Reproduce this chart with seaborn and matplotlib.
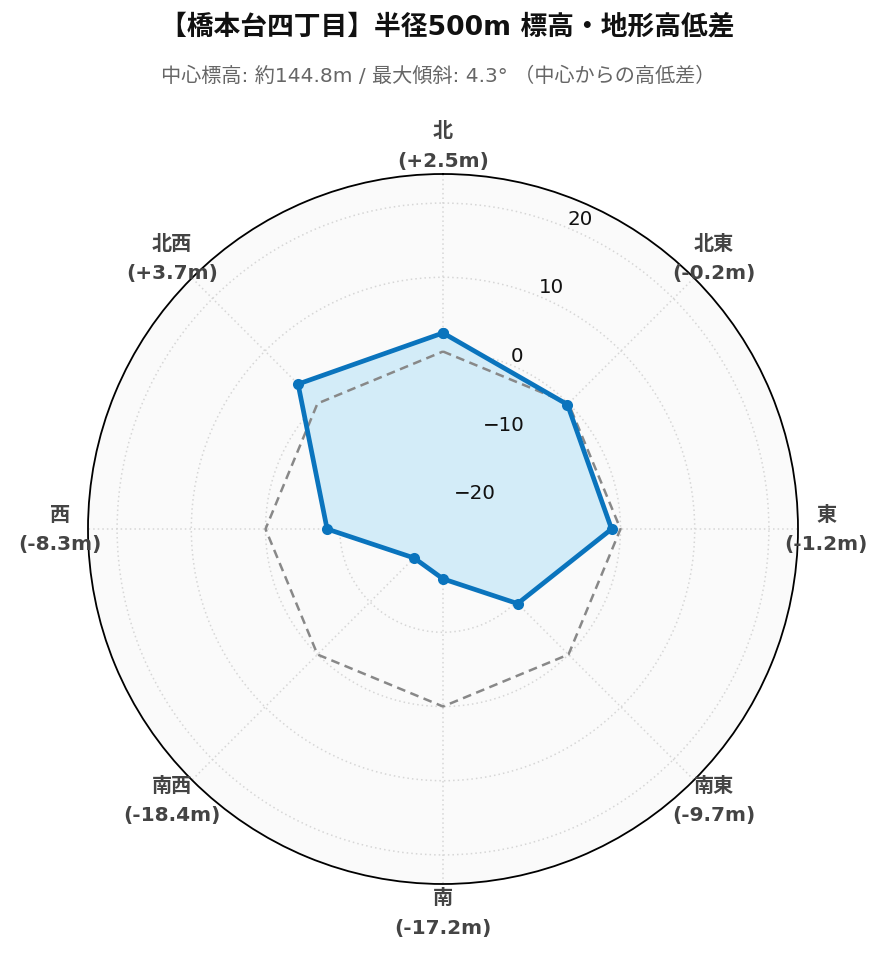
import numpy as np
import matplotlib
matplotlib.use("Agg")
import matplotlib.pyplot as plt
import seaborn as sns

directions = ["北", "北東", "東", "南東", "南", "南西", "西", "北西"]
diffs = [2.5, -0.2, -1.2, -9.7, -17.2, -18.4, -8.3, 3.7]
rticks = [-20, -10, 0, 10, 20]
title = "【橋本台四丁目】半径500m 標高・地形高低差"
subtitle = "中心標高: 約144.8m / 最大傾斜: 4.3° （中心からの高低差）"

sns.set_theme(style="white")
plt.rcParams["font.family"] = ["DejaVu Sans", "Noto Sans CJK JP"]
plt.rcParams["axes.unicode_minus"] = True

n = len(directions)
theta = np.linspace(0, 2 * np.pi, n, endpoint=False)
theta_c = np.append(theta, theta[0])
vals_c = np.append(diffs, diffs[0])
zeros_c = np.zeros_like(vals_c)
rlim = max(abs(v) for v in diffs) * 1.3

fig = plt.figure(figsize=(8.85, 9.62), dpi=100)
ax = fig.add_axes([88 / 885, 77 / 962, 710 / 885, 710 / 962], projection="polar")
ax.set_theta_zero_location("N")
ax.set_theta_direction(-1)
ax.set_facecolor("#fafafa")
ax.set_ylim(-rlim, rlim)

ax.set_xticks(theta)
ax.set_xticklabels([])
ax.set_yticks(rticks)
ax.set_yticklabels([])
ax.grid(True, color="#d6d6d6", linestyle=(0, (1, 2)), linewidth=1.1)
ax.spines["polar"].set_color("black")
ax.spines["polar"].set_linewidth(1.3)

# zero reference
ax.plot(theta_c, zeros_c, color="#888888", linestyle=(0, (3.5, 2.2)), linewidth=1.8, zorder=3)

# data
ax.fill(theta_c, vals_c, color="#d3ecf8", alpha=1.0, zorder=2)
sns.lineplot(x=theta_c, y=vals_c, sort=False, estimator=None, ax=ax,
             color="#0a74bd", linewidth=3.4, marker="o", markersize=8,
             markeredgewidth=0, zorder=4)

# radial tick labels
for v in rticks:
    ax.text(np.deg2rad(22.5), v, f"{v}".replace("-", "\u2212"), ha="left", va="bottom",
            fontsize=14.3, color="#111111", zorder=5)

# angular labels
for t, d, v in zip(theta, directions, diffs):
    x = 0.5 + 0.5 * 1.08 * np.sin(t)
    y = 0.5 + 0.5 * 1.08 * np.cos(t)
    ax.text(x, y, f"{d}\n({v:+.1f}m)", transform=ax.transAxes, ha="center", va="center",
            fontsize=14.5, fontweight="bold", color="#444444", linespacing=1.7,
            clip_on=False, zorder=6)

fig.text(0.505, 1 - 27 / 962, title, ha="center", va="center", fontsize=19.3,
         fontweight="bold", color="#111111")
fig.text(0.495, 1 - 76 / 962, subtitle, ha="center", va="center", fontsize=14.5,
         color="#666666")

fig.savefig("out.png", dpi=100, facecolor="white")
